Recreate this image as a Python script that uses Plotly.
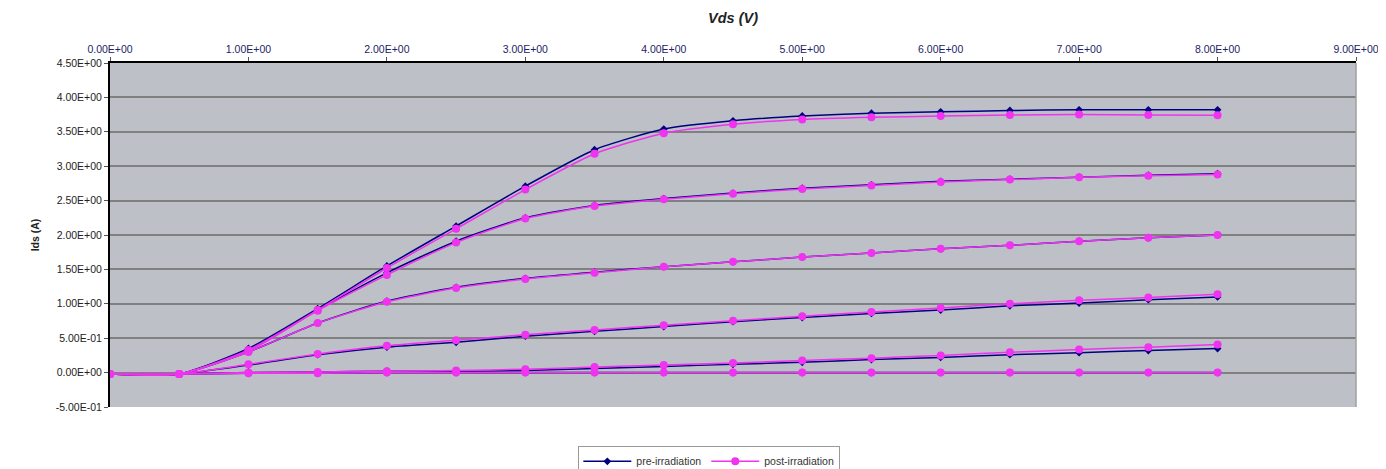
import plotly.graph_objects as go

vds = [0, 0.5, 1.0, 1.5, 2.0, 2.5, 3.0, 3.5, 4.0, 4.5, 5.0, 5.5, 6.0, 6.5, 7.0, 7.5, 8.0]

pre_c1 = [-0.02, -0.02, 0.35, 0.93, 1.55, 2.13, 2.71, 3.24, 3.54, 3.66, 3.73, 3.77, 3.79, 3.81, 3.82, 3.82, 3.82]
pre_c2 = [-0.02, -0.02, 0.33, 0.91, 1.45, 1.91, 2.25, 2.43, 2.53, 2.61, 2.68, 2.73, 2.78, 2.81, 2.84, 2.87, 2.89]
pre_c3 = [-0.02, -0.02, 0.30, 0.72, 1.04, 1.24, 1.37, 1.46, 1.54, 1.61, 1.68, 1.74, 1.80, 1.85, 1.91, 1.96, 2.00]
pre_c4 = [-0.02, -0.02, 0.11, 0.26, 0.37, 0.44, 0.53, 0.60, 0.67, 0.74, 0.80, 0.86, 0.91, 0.97, 1.01, 1.06, 1.10]
pre_c5 = [-0.02, -0.02, 0.00, 0.01, 0.02, 0.02, 0.03, 0.06, 0.09, 0.12, 0.15, 0.19, 0.22, 0.26, 0.29, 0.32, 0.35]
pre_c6 = [-0.02, -0.02, -0.01, -0.01, 0.00, 0.00, 0.00, 0.00, 0.00, 0.00, 0.00, 0.00, 0.00, 0.00, 0.00, 0.00, 0.00]

post_c1 = [-0.02, -0.02, 0.33, 0.91, 1.52, 2.09, 2.66, 3.18, 3.48, 3.61, 3.68, 3.71, 3.73, 3.745, 3.75, 3.745, 3.74]
post_c2 = [-0.02, -0.02, 0.31, 0.90, 1.42, 1.89, 2.24, 2.42, 2.52, 2.60, 2.67, 2.72, 2.77, 2.805, 2.84, 2.86, 2.88]
post_c3 = [-0.02, -0.02, 0.30, 0.72, 1.03, 1.23, 1.36, 1.45, 1.54, 1.61, 1.68, 1.74, 1.80, 1.85, 1.91, 1.96, 2.00]
post_c4 = [-0.02, -0.02, 0.12, 0.27, 0.39, 0.47, 0.55, 0.62, 0.69, 0.755, 0.82, 0.88, 0.94, 1.00, 1.05, 1.09, 1.14]
post_c5 = [-0.02, -0.02, 0.00, 0.01, 0.02, 0.03, 0.05, 0.08, 0.11, 0.14, 0.175, 0.21, 0.25, 0.295, 0.335, 0.37, 0.41]
post_c6 = [-0.02, -0.02, -0.01, -0.01, 0.00, 0.00, 0.00, 0.00, 0.00, 0.00, 0.00, 0.00, 0.00, 0.00, 0.00, 0.00, 0.00]

x_ticks = [0, 1, 2, 3, 4, 5, 6, 7, 8, 9]
x_tick_labels = ["0.00E+00", "1.00E+00", "2.00E+00", "3.00E+00", "4.00E+00",
                 "5.00E+00", "6.00E+00", "7.00E+00", "8.00E+00", "9.00E+00"]
y_ticks = [-0.5, 0, 0.5, 1.0, 1.5, 2.0, 2.5, 3.0, 3.5, 4.0, 4.5]
y_tick_labels = ["-5.00E-01", "0.00E+00", "5.00E-01", "1.00E+00", "1.50E+00", "2.00E+00",
                 "2.50E+00", "3.00E+00", "3.50E+00", "4.00E+00", "4.50E+00"]

pre_series = [pre_c1, pre_c2, pre_c3, pre_c4, pre_c5, pre_c6]
post_series = [post_c1, post_c2, post_c3, post_c4, post_c5, post_c6]

PRE = "#000080"
POST = "#F033F0"

fig = go.Figure()
for i, ys in enumerate(pre_series):
    fig.add_trace(go.Scatter(
        x=vds, y=ys, mode="lines+markers", name="pre-irradiation",
        legendgroup="pre", showlegend=(i == 0),
        line=dict(color=PRE, width=1.5, shape="spline", smoothing=0.6),
        marker=dict(symbol="diamond", size=6, color=PRE),
    ))
for i, ys in enumerate(post_series):
    fig.add_trace(go.Scatter(
        x=vds, y=ys, mode="lines+markers", name="post-irradiation",
        legendgroup="post", showlegend=(i == 0),
        line=dict(color=POST, width=1.5, shape="spline", smoothing=0.6),
        marker=dict(symbol="circle", size=8, color=POST),
    ))

font = "Liberation Sans, Arial, sans-serif"
fig.update_layout(
    width=1378, height=461,
    margin=dict(l=102, r=30, t=55, b=62, autoexpand=False),
    paper_bgcolor="white",
    plot_bgcolor="#BEC0C7",
    font=dict(family=font, size=10, color="#222222"),
    showlegend=True,
    legend=dict(orientation="h", x=0.481, xanchor="center", y=-0.113, yanchor="top",
                bordercolor="#999999", borderwidth=1, bgcolor="white",
                font=dict(size=10.5, color="#333333"), itemwidth=48),
    xaxis=dict(
        side="top", range=[0, 9], tickvals=x_ticks, ticktext=x_tick_labels, automargin=False,
        showgrid=False, zeroline=False, showline=True, linecolor="black", linewidth=2,
        ticks="outside", ticklen=4, tickcolor="#555555", tickfont=dict(size=10.5, color="#222266"),
        title=dict(text="<b><i>Vds (V)</i></b>", font=dict(size=14.5, color="#222222"), standoff=16),
    ),
    yaxis=dict(
        range=[-0.5, 4.5], tickvals=y_ticks, ticktext=y_tick_labels, automargin=False,
        showgrid=True, gridcolor="#808080", gridwidth=1.5, zeroline=False,
        showline=True, linecolor="black", linewidth=2,
        ticks="outside", ticklen=4, tickcolor="#555555", tickfont=dict(size=10.5, color="#222222"),
        title=dict(text="<b>Ids (A)</b>", font=dict(size=10.5, color="#222222"), standoff=14),
    ),
)
fig.add_shape(type="line", xref="paper", yref="paper", x0=1, x1=1, y0=0, y1=1,
              line=dict(color="#A0A0A0", width=1.5))

fig.write_html("out.html")
